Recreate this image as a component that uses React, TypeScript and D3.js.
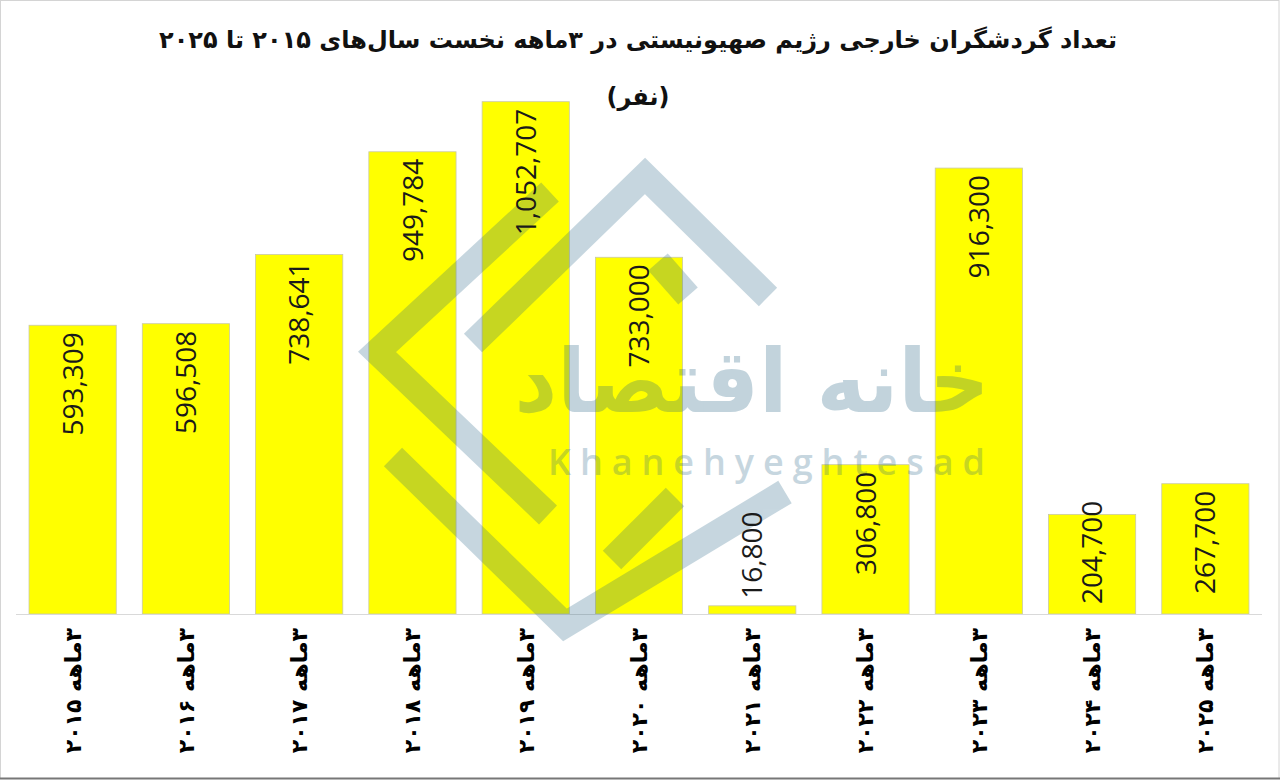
import React from "react";
import * as d3 from "d3";

const categories = [
  "۳ماهه ۲۰۱۵", "۳ماهه ۲۰۱۶", "۳ماهه ۲۰۱۷", "۳ماهه ۲۰۱۸", "۳ماهه ۲۰۱۹", "۳ماهه ۲۰۲۰",
  "۳ماهه ۲۰۲۱", "۳ماهه ۲۰۲۲", "۳ماهه ۲۰۲۳", "۳ماهه ۲۰۲۴", "۳ماهه ۲۰۲۵",
];
const visitors = [593309, 596508, 738641, 949784, 1052707, 733000, 16800, 306800, 916300, 204700, 267700];
const titleLine1 = "تعداد گردشگران خارجی رژیم صهیونیستی در ۳ماهه نخست سال‌های ۲۰۱۵  تا ۲۰۲۵";
const titleLine2 = "(نفر)";
const watermarkFa = "خانه اقتصاد";
const watermarkEn = "Khanehyeghtesad";

const W = 1280;
const H = 780;
const baseY = 614;
const labelSize = 28;

function labelLength(s: string) {
  let w = 0;
  for (const ch of s) w += ch === "," ? 0.26 : 0.572;
  return w * labelSize;
}

export default function App() {
  const x = d3.scaleBand<string>().domain(categories).range([16, 1262]).paddingInner(0.23).paddingOuter(0.115);
  const y = d3.scaleLinear().domain([0, 1200000]).range([baseY, 30]);
  const fmt = d3.format(",");
  const wm = "rgb(32,97,130)";
  const line = d3.line<[number, number]>();

  return (
    <svg width={W} height={H} style={{ position: "absolute", left: 0, top: 0, background: "#fff" }}>
      <rect x={0.5} y={0.5} width={W - 1.5} height={H - 2} fill="#fff" stroke="#d4d4d4" />
      <line x1={0} x2={W} y1={H - 1.5} y2={H - 1.5} stroke="#777" strokeWidth={2} />
      <text x={638} y={40} textAnchor="middle" dominantBaseline="central" direction="rtl"
        style={{ direction: "rtl" }} fontFamily="DejaVu Sans" fontWeight="bold" fontSize={24} fill="#111">
        {titleLine1}
      </text>
      <text x={638} y={97} textAnchor="middle" dominantBaseline="central" direction="rtl"
        style={{ direction: "rtl" }} fontFamily="DejaVu Sans" fontWeight="bold" fontSize={24} fill="#111">
        {titleLine2}
      </text>
      {categories.map((c, i) => (
        <rect key={c} x={x(c)} y={y(visitors[i])} width={x.bandwidth()} height={baseY - y(visitors[i])}
          fill="#ffff00" stroke="#c9c9a8" strokeWidth={0.8} />
      ))}
      <line x1={16} x2={1262} y1={baseY + 0.5} y2={baseY + 0.5} stroke="#d9d9d9" />
      <g opacity={0.25} fill="none" stroke={wm} strokeWidth={26} strokeLinejoin="miter">
        <path d={line([[473, 343], [645, 176], [768, 297]]) || ""} />
        <path d={line([[550, 192], [377, 352], [548, 515]]) || ""} />
        <path d={line([[393, 457], [565, 625], [785, 492]]) || ""} />
        <path d={line([[658, 262], [688, 296]]) || ""} />
        <path d={line([[675, 497], [612, 560]]) || ""} />
      </g>
      <text x={752} y={412} textAnchor="middle" direction="rtl" style={{ direction: "rtl" }}
        fontFamily="DejaVu Sans" fontWeight="bold" fontSize={88} fill={wm} opacity={0.27}
        textLength={475} lengthAdjust="spacingAndGlyphs">
        {watermarkFa}
      </text>
      <text x={548} y={475} fontFamily="Open Sans" fontWeight="600" fontSize={36} fill={wm} opacity={0.25}
        textLength={437} lengthAdjust="spacing">
        {watermarkEn}
      </text>
      {categories.map((c, i) => {
        const cx = (x(c) || 0) + x.bandwidth() / 2;
        const top = y(visitors[i]);
        const label = fmt(visitors[i]);
        const len = labelLength(label);
        const inside = baseY - top > 60;
        let anchor = "end";
        let ty = top + 7;
        if (!inside) {
          anchor = "start";
          ty = top - 7;
        } else if (top + 7 + len > baseY - 10) {
          anchor = "start";
          ty = baseY - 10;
        }
        return (
          <text key={"v" + c} transform={`translate(${cx},${ty}) rotate(-90)`} textAnchor={anchor}
            dy="0.36em" fontFamily="Open Sans" fontSize={labelSize} fill="#1a1a1a">
            {label}
          </text>
        );
      })}
      {categories.map((c) => {
        const cx = (x(c) || 0) + x.bandwidth() / 2;
        return (
          <text key={"l" + c} transform={`translate(${cx},628) rotate(-90)`} textAnchor="start" direction="rtl"
            style={{ direction: "rtl" }} dy="0.36em" fontFamily="DejaVu Sans" fontWeight="bold" fontSize={22} fill="#000">
            {c}
          </text>
        );
      })}
    </svg>
  );
}
